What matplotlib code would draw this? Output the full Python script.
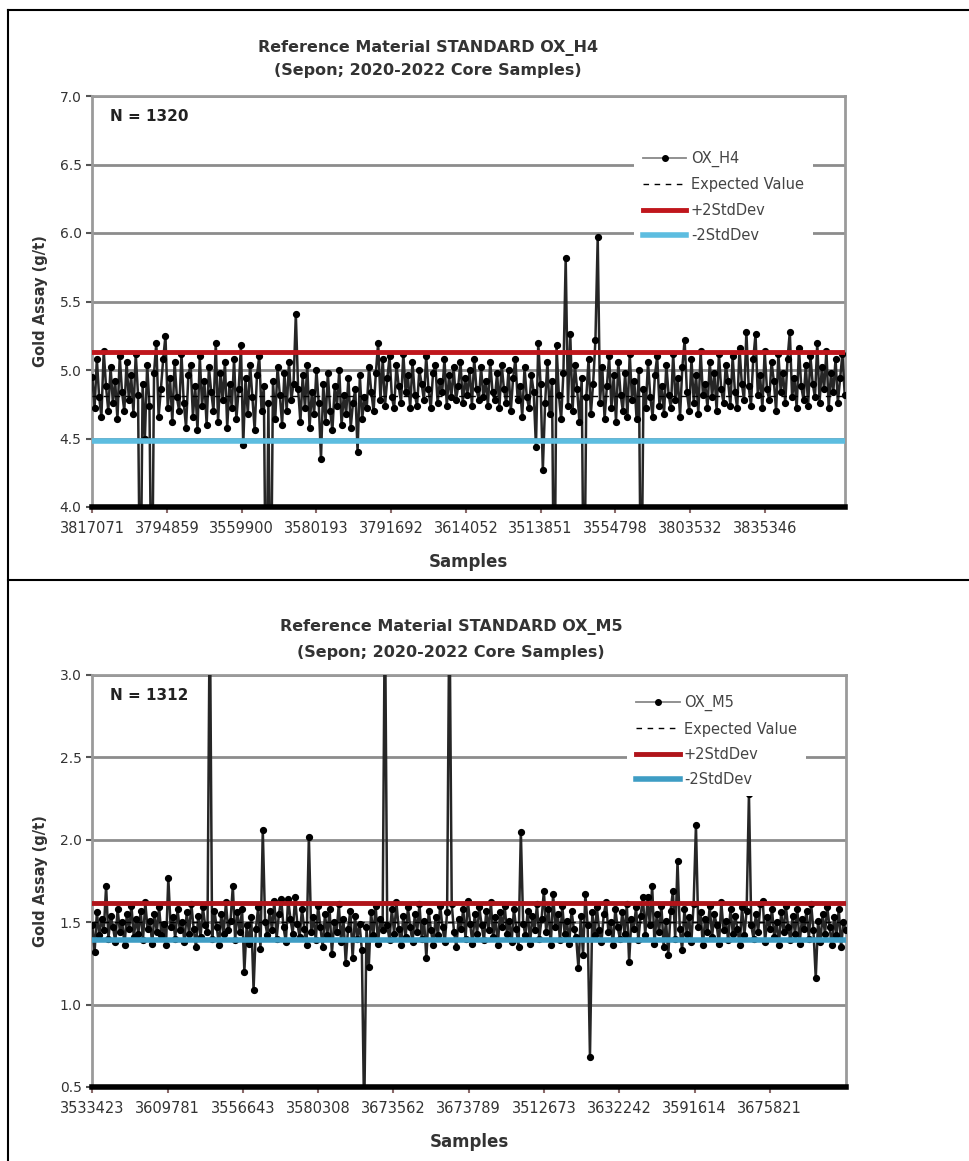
import numpy as np
import matplotlib
matplotlib.use("Agg")
import matplotlib.pyplot as plt
from matplotlib.lines import Line2D

plt.rcParams['font.family'] = ['DejaVu Sans']

# OX_H4 assays (g/t), every 4th sample, 1320 samples in total
h4_values = [
    4.95, 4.72, 5.08, 4.80, 4.66, 5.14, 4.88, 4.70, 5.02, 4.76,
    4.92, 4.64, 5.10, 4.84, 4.70, 5.06, 4.78, 4.96, 4.68, 5.12,
    4.82, 3.00, 4.90, 4.50, 5.04, 4.74, 3.00, 4.98, 5.20, 4.66,
    4.86, 5.08, 5.25, 4.72, 4.94, 4.62, 5.06, 4.80, 4.70, 5.12,
    4.76, 4.58, 4.96, 5.04, 4.66, 4.88, 4.56, 5.10, 4.74, 4.92,
    4.60, 5.02, 4.84, 4.70, 5.20, 4.62, 4.98, 4.78, 5.06, 4.58,
    4.90, 4.72, 5.08, 4.64, 4.86, 5.18, 4.45, 4.94, 4.68, 5.04,
    4.80, 4.56, 4.96, 5.10, 4.70, 4.88, 3.00, 4.76, 3.00, 4.92,
    4.64, 5.02, 4.82, 4.60, 4.98, 4.70, 5.06, 4.78, 4.90, 5.41,
    4.86, 4.62, 4.96, 4.72, 5.04, 4.58, 4.84, 4.68, 5.00, 4.76,
    4.35, 4.90, 4.62, 4.98, 4.70, 4.56, 4.88, 4.74, 5.00, 4.60,
    4.82, 4.68, 4.94, 4.58, 4.76, 4.86, 4.40, 4.96, 4.64, 4.80,
    4.72, 5.02, 4.84, 4.70, 4.98, 5.20, 4.78, 5.08, 4.74, 4.94,
    5.10, 4.80, 4.72, 5.04, 4.88, 4.76, 5.12, 4.84, 4.96, 4.72,
    5.06, 4.82, 4.74, 5.00, 4.90, 4.78, 5.10, 4.86, 4.72, 4.98,
    5.04, 4.76, 4.92, 4.84, 5.08, 4.74, 4.96, 4.80, 5.02, 4.78,
    4.88, 5.06, 4.76, 4.94, 4.82, 5.00, 4.74, 5.08, 4.86, 4.78,
    5.02, 4.80, 4.92, 4.74, 5.06, 4.84, 4.78, 4.98, 4.72, 5.04,
    4.86, 4.76, 5.00, 4.70, 4.94, 5.08, 4.78, 4.88, 4.66, 5.02,
    4.80, 4.72, 4.96, 4.84, 4.44, 5.20, 4.90, 4.27, 4.76, 5.06,
    4.68, 4.92, 3.00, 5.18, 4.82, 4.64, 4.98, 5.82, 4.74, 5.26,
    4.70, 5.04, 4.86, 4.62, 4.94, 3.00, 4.80, 5.08, 4.68, 4.90,
    5.22, 5.97, 4.76, 5.02, 4.64, 4.88, 5.10, 4.72, 4.96, 4.62,
    5.06, 4.82, 4.70, 4.98, 4.66, 5.12, 4.78, 4.92, 4.64, 5.00,
    3.00, 4.86, 4.72, 5.06, 4.80, 4.66, 4.96, 5.10, 4.74, 4.88,
    4.68, 5.04, 4.82, 4.72, 5.12, 4.78, 4.94, 4.66, 5.02, 5.22,
    4.84, 4.70, 5.08, 4.76, 4.96, 4.68, 5.14, 4.82, 4.90, 4.72,
    5.06, 4.80, 4.98, 4.70, 5.12, 4.86, 4.76, 5.04, 4.92, 4.74,
    5.10, 4.84, 4.72, 5.16, 4.90, 4.78, 5.28, 4.88, 4.74, 5.08,
    5.26, 4.82, 4.96, 4.72, 5.14, 4.86, 4.78, 5.06, 4.92, 4.70,
    5.12, 4.84, 4.98, 4.76, 5.08, 5.28, 4.80, 4.94, 4.72, 5.16,
    4.88, 4.78, 5.04, 4.74, 5.10, 4.90, 4.80, 5.20, 4.76, 5.02,
    4.86, 5.14, 4.72, 4.98, 4.84, 5.08, 4.76, 4.94, 5.12, 4.82,
]
h4_n = 1320
h4_expected = 4.81
h4_plus2sd = 5.13
h4_minus2sd = 4.48
h4_ticklabels = ['3817071', '3794859', '3559900', '3580193', '3791692',
                 '3614052', '3513851', '3554798', '3803532', '3835346']

# OX_M5 assays (g/t), every 4th sample, 1312 samples in total
m5_values = [
    1.48, 1.32, 1.56, 1.42, 1.52, 1.45, 1.72, 1.40, 1.54, 1.47,
    1.38, 1.58, 1.44, 1.50, 1.36, 1.55, 1.46, 1.60, 1.41, 1.52,
    1.43, 1.57, 1.39, 1.62, 1.46, 1.51, 1.37, 1.55, 1.44, 1.59,
    1.42, 1.49, 1.36, 1.77, 1.47, 1.53, 1.40, 1.58, 1.45, 1.50,
    1.38, 1.56, 1.43, 1.61, 1.46, 1.35, 1.54, 1.41, 1.59, 1.48,
    1.44, 3.50, 1.40, 1.57, 1.47, 1.36, 1.55, 1.43, 1.62, 1.45,
    1.51, 1.72, 1.39, 1.56, 1.44, 1.58, 1.20, 1.48, 1.37, 1.53,
    1.09, 1.46, 1.59, 1.34, 2.06, 1.50, 1.42, 1.57, 1.45, 1.63,
    1.40, 1.55, 1.64, 1.47, 1.38, 1.64, 1.52, 1.43, 1.65, 1.49,
    1.41, 1.58, 1.46, 1.36, 2.02, 1.44, 1.53, 1.39, 1.60, 1.47,
    1.35, 1.55, 1.42, 1.58, 1.31, 1.50, 1.44, 1.61, 1.38, 1.52,
    1.25, 1.46, 1.57, 1.28, 1.54, 1.40, 1.49, 1.33, 0.30, 1.47,
    1.23, 1.56, 1.42, 1.60, 1.37, 1.52, 1.45, 3.50, 1.48, 1.39,
    1.58, 1.43, 1.62, 1.46, 1.36, 1.54, 1.41, 1.59, 1.47, 1.38,
    1.55, 1.44, 1.61, 1.40, 1.51, 1.28, 1.57, 1.45, 1.36, 1.53,
    1.42, 1.60, 1.47, 1.38, 1.56, 3.50, 1.61, 1.44, 1.35, 1.52,
    1.46, 1.58, 1.40, 1.63, 1.49, 1.37, 1.55, 1.43, 1.59, 1.48,
    1.39, 1.57, 1.45, 1.62, 1.41, 1.53, 1.36, 1.56, 1.47, 1.60,
    1.43, 1.51, 1.38, 1.58, 1.46, 1.35, 2.05, 1.49, 1.42, 1.57,
    1.37, 1.54, 1.45, 1.61, 1.40, 1.52, 1.69, 1.44, 1.58, 1.36,
    1.67, 1.47, 1.55, 1.39, 1.60, 1.43, 1.51, 1.37, 1.57, 1.46,
    1.41, 1.22, 1.54, 1.30, 1.67, 1.48, 0.68, 1.56, 1.42, 1.59,
    1.45, 1.38, 1.55, 1.62, 1.44, 1.50, 1.36, 1.58, 1.47, 1.40,
    1.56, 1.43, 1.61, 1.26, 1.52, 1.46, 1.59, 1.39, 1.54, 1.65,
    1.42, 1.65, 1.48, 1.72, 1.37, 1.55, 1.44, 1.60, 1.35, 1.51,
    1.30, 1.57, 1.69, 1.40, 1.87, 1.46, 1.33, 1.58, 1.43, 1.53,
    1.38, 1.61, 2.09, 1.47, 1.56, 1.36, 1.52, 1.44, 1.60, 1.41,
    1.55, 1.48, 1.37, 1.62, 1.45, 1.51, 1.39, 1.58, 1.43, 1.54,
    1.46, 1.36, 1.59, 1.42, 1.57, 2.28, 1.48, 1.40, 1.55, 1.44,
    1.61, 1.63, 1.38, 1.53, 1.46, 1.58, 1.41, 1.50, 1.36, 1.56,
    1.44, 1.60, 1.47, 1.39, 1.54, 1.43, 1.58, 1.37, 1.52, 1.46,
    1.57, 1.40, 1.61, 1.45, 1.16, 1.51, 1.38, 1.55, 1.43, 1.59,
    1.47, 1.36, 1.53, 1.42, 1.58, 1.35, 1.50, 1.45,
]
m5_n = 1312
m5_expected = 1.50
m5_plus2sd = 1.615
m5_minus2sd = 1.39
m5_ticklabels = ['3533423', '3609781', '3556643', '3580308', '3673562',
                 '3673789', '3512673', '3632242', '3591614', '3675821']

tick_every = 131


def control_chart(ax, values, n, name, expected, hi, lo, ticklabels,
                  ymin, ymax, red, blue, legend_anchor):
    x = np.linspace(1, n, len(values))
    ax.plot(x, values, color='#262626', lw=1.8, marker='o', ms=4.2,
            mfc='black', mec='black', label=name, zorder=3)
    ax.axhline(expected, color='black', lw=1, ls=(0, (4, 4)),
               label='Expected Value', zorder=4)
    ax.axhline(hi, color=red, lw=3.5, label='+2StdDev', zorder=5)
    ax.axhline(lo, color=blue, lw=4, label='-2StdDev', zorder=5)

    ax.set_xlim(0.5, n + 0.5)
    ax.set_ylim(ymin, ymax)
    yt = np.arange(ymin, ymax + 0.01, 0.5)
    ax.set_yticks(yt)
    ax.set_yticklabels(['%.1f' % v for v in yt])
    pos = [1 + tick_every * i for i in range(len(ticklabels))]
    ax.set_xticks(pos)
    ax.set_xticklabels(ticklabels, fontsize=10.5, color='#333333')
    ax.tick_params(axis='y', labelsize=10, colors='#555555', length=4,
                   width=1.5, labelcolor='#333333')
    ax.tick_params(axis='x', length=4, width=1.5, color='#8a6a6a', pad=6)
    ax.grid(axis='y', color='#8c8c8c', lw=2)
    ax.set_axisbelow(True)
    for s in ['left', 'right', 'top']:
        ax.spines[s].set_color('#9a9a9a')
        ax.spines[s].set_linewidth(2)
    ax.spines['bottom'].set_color('black')
    ax.spines['bottom'].set_linewidth(4)
    ax.spines['bottom'].set_zorder(6)

    ax.set_ylabel('Gold Assay (g/t)', fontsize=10.5, fontweight='bold',
                  color='#333333', labelpad=8)
    ax.set_xlabel('Samples', fontsize=12, fontweight='bold', color='#333333',
                  labelpad=12)
    ax.text(0.024, 0.95, 'N = %d' % n, transform=ax.transAxes, fontsize=11,
            fontweight='bold', va='center', ha='left', color='#222222')

    leg = ax.legend(loc='upper left', bbox_to_anchor=legend_anchor,
                    fontsize=10.5, frameon=True, fancybox=False,
                    handlelength=3.0, handletextpad=0.3, labelspacing=0.7,
                    borderpad=0.6)
    leg.get_frame().set_facecolor('white')
    leg.get_frame().set_edgecolor('none')
    leg.get_frame().set_alpha(1)
    leg.set_zorder(10)
    leg.get_lines()[0].set_color('#888888')
    leg.get_lines()[0].set_linewidth(1.3)
    leg.get_lines()[0].set_markersize(4)
    for t in leg.get_texts():
        t.set_color('#444444')


fig = plt.figure(figsize=(9.69, 11.61), dpi=100)

ax1 = fig.add_axes([92 / 969, 1 - 507 / 1161, 753 / 969, 411 / 1161])
control_chart(ax1, h4_values, h4_n, 'OX_H4', h4_expected, h4_plus2sd,
              h4_minus2sd, h4_ticklabels, 4.0, 7.0, '#C0161C', '#5DBDE0',
              (0.71, 0.905))
fig.text(428 / 969, 1 - 48 / 1161, 'Reference Material STANDARD OX_H4',
         ha='center', va='center', fontsize=11.5, fontweight='bold', color='#333333')
fig.text(428 / 969, 1 - 71 / 1161, '(Sepon; 2020-2022 Core Samples)',
         ha='center', va='center', fontsize=11.5, fontweight='bold', color='#333333')

ax2 = fig.add_axes([92 / 969, 1 - 1087 / 1161, 754 / 969, 412 / 1161])
control_chart(ax2, m5_values, m5_n, 'OX_M5', m5_expected, m5_plus2sd,
              m5_minus2sd, m5_ticklabels, 0.5, 3.0, '#B0141A', '#3E9DC4',
              (0.70, 0.99))
fig.text(451 / 969, 1 - 627 / 1161, 'Reference Material STANDARD OX_M5',
         ha='center', va='center', fontsize=11.5, fontweight='bold', color='#333333')
fig.text(451 / 969, 1 - 652 / 1161, '(Sepon; 2020-2022 Core Samples)',
         ha='center', va='center', fontsize=11.5, fontweight='bold', color='#333333')

# table borders around the two charts
fig.add_artist(Line2D([8 / 969, 1], [1 - 10 / 1161, 1 - 10 / 1161],
                      color='black', lw=1.5))
fig.add_artist(Line2D([8 / 969, 1], [1 - 580 / 1161, 1 - 580 / 1161],
                      color='black', lw=1.5))
fig.add_artist(Line2D([8 / 969, 8 / 969], [0, 1 - 10 / 1161],
                      color='black', lw=1.5))

fig.savefig('out.png', dpi=100)
